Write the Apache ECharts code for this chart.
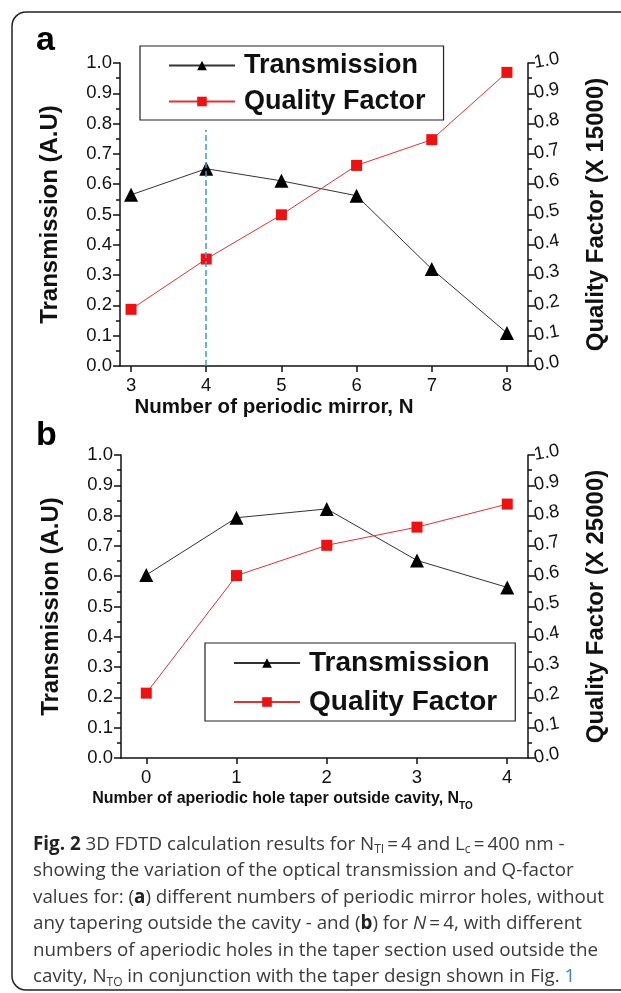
<!DOCTYPE html>
<html>
<head>
<meta charset="utf-8">
<script src="https://cdn.jsdelivr.net/npm/echarts@6/dist/echarts.min.js"></script>
<style>
html, body { margin: 0; padding: 0; background: #fff; }
#chart { width: 621px; height: 993px; }
</style>
</head>
<body>
<div id="chart"></div>
<script>
// panel a: periodic mirror count
const mirrorN = [3, 4, 5, 6, 7, 8]
const transA = [0.565, 0.651, 0.611, 0.562, 0.32, 0.109]
const qualityA = [0.187, 0.353, 0.499, 0.662, 0.747, 0.969]
// dashed marker at N = 4
const markerN = 4
const markerTop = 0.78

// panel b: aperiodic taper holes
const taperN = [0, 1, 2, 3, 4]
const transB = [0.604, 0.793, 0.822, 0.652, 0.563]
const qualityB = [0.214, 0.602, 0.702, 0.762, 0.838]

const captionLines = [
  '{b|Fig. 2} 3D FDTD calculation results for N{s|TI}\u2009=\u20094 and L{s|c}\u2009=\u2009400 nm -',
  'showing the variation of the optical transmission and Q-factor',
  'values for: ({b|a}) different numbers of periodic mirror holes, without',
  'any tapering outside the cavity - and ({b|b}) for {i|N}\u2009=\u20094, with different',
  'numbers of aperiodic holes in the taper section used outside the',
  'cavity, N{s|TO} in conjunction with the taper design shown in Fig. {l|1}'
]

const FONT = '"Liberation Sans", Arial, sans-serif'
const CAP_FONT = '"Open Sans", "Noto Sans", sans-serif'
const INK = '#111'

function pairs (xs, ys) {
  return xs.map((x, i) => [x, ys[i]])
}

function yAxisFor (grid, position, name, gap) {
  const right = position === 'right'
  return {
    type: 'value',
    gridIndex: grid,
    position: position,
    min: 0,
    max: 1,
    interval: 0.1,
    name: name,
    nameLocation: 'middle',
    nameRotate: 90,
    nameGap: gap,
    nameMoveOverlap: false,
    nameTextStyle: { fontFamily: FONT, fontWeight: 'bold', fontSize: 24, color: INK },
    axisLine: { show: true, onZero: false, lineStyle: { color: INK, width: 1.5 } },
    axisTick: { show: true, inside: false, length: 7, lineStyle: { color: INK, width: 1.5 } },
    splitLine: { show: false },
    axisLabel: {
      fontFamily: FONT,
      fontSize: 18.5,
      color: INK,
      margin: right ? 6 : 8,
      rotate: right ? 10 : 0,
      formatter: v => v.toFixed(1)
    }
  }
}

// short ticks every 0.05, drawn by a bare axis on the same side
function minorAxisFor (grid, position) {
  return {
    type: 'value',
    gridIndex: grid,
    position: position,
    min: 0,
    max: 1,
    interval: 0.05,
    axisLine: { show: false, onZero: false },
    axisTick: { show: true, inside: false, length: 4, lineStyle: { color: INK, width: 1.5 } },
    axisLabel: { show: false },
    splitLine: { show: false }
  }
}

function xAxisFor (grid, min, max, ticks, name, nameStyle, padRight, gap) {
  return {
    type: 'value',
    gridIndex: grid,
    min: min,
    max: max,
    name: name,
    nameLocation: 'middle',
    nameGap: gap,
    nameMoveOverlap: false,
    nameTextStyle: Object.assign({ fontFamily: FONT, fontWeight: 'bold', color: INK, padding: [0, padRight, 0, 0] }, nameStyle),
    axisLine: { show: true, onZero: false, lineStyle: { color: INK, width: 1.5 } },
    axisTick: { show: true, inside: false, length: 6, customValues: ticks, lineStyle: { color: INK, width: 1.5 } },
    splitLine: { show: false },
    axisLabel: { fontFamily: FONT, fontSize: 18.5, color: INK, margin: 10, customValues: ticks }
  }
}

function legendAt (left, top, fontSize, gap) {
  return {
    left: left,
    top: top,
    orient: 'vertical',
    padding: [6, 18, 5, 28],
    itemGap: gap,
    itemWidth: 66,
    itemHeight: 12,
    borderColor: '#222',
    borderWidth: 1.2,
    data: ['Transmission', 'Quality Factor'],
    textStyle: { fontFamily: FONT, fontWeight: 'bold', fontSize: fontSize, color: INK, padding: [0, 0, 0, 4] }
  }
}

function transSeries (xi, data, extra) {
  return Object.assign({
    name: 'Transmission',
    type: 'line',
    xAxisIndex: xi,
    yAxisIndex: xi * 4,
    data: data,
    symbol: 'triangle',
    symbolSize: 14,
    itemStyle: { color: '#000' },
    lineStyle: { color: '#333', width: 1 }
  }, extra || {})
}

function qualitySeries (xi, data) {
  return {
    name: 'Quality Factor',
    type: 'line',
    xAxisIndex: xi,
    yAxisIndex: xi * 4 + 1,
    data: data,
    symbol: 'rect',
    symbolSize: 11,
    itemStyle: { color: '#ee1111' },
    lineStyle: { color: '#dd3333', width: 1 }
  }
}

const captionGraphics = captionLines.map((line, i) => ({
  type: 'text',
  left: 33,
  top: 835 + i * 26.5,
  style: {
    text: line,
    fontFamily: CAP_FONT,
    fontSize: 18.8,
    fill: '#3a3a3a',
    rich: {
      b: { fontFamily: CAP_FONT, fontSize: 18.8, fontWeight: 'bold', fill: '#222' },
      i: { fontFamily: CAP_FONT, fontSize: 18.8, fontStyle: 'italic', fill: '#3a3a3a' },
      s: { fontFamily: CAP_FONT, fontSize: 12, fill: '#3a3a3a', verticalAlign: 'bottom', lineHeight: 12, padding: [0, 0, -2, 0] },
      l: { fontFamily: CAP_FONT, fontSize: 18.8, fill: '#3b7dd8' }
    }
  }
}))

const chart = echarts.init(document.getElementById('chart'))
chart.setOption({
  animation: false,
  backgroundColor: '#fff',
  grid: [
    { left: 120, right: 93, top: 63, height: 303, containLabel: false, outerBoundsMode: 'none' },
    { left: 121, right: 93, top: 455, height: 303, containLabel: false, outerBoundsMode: 'none' }
  ],
  xAxis: [
    xAxisFor(0, 2.853, 8.28, mirrorN, 'Number of periodic mirror, N', { fontSize: 20.5 }, 100, 31),
    xAxisFor(1, -0.28, 4.23, taperN, 'Number of aperiodic hole taper outside cavity, N{s|TO}', {
      fontSize: 16,
      rich: { s: { fontFamily: FONT, fontWeight: 'bold', fontSize: 10, color: INK, verticalAlign: 'bottom', padding: [0, 0, -4, 0] } }
    }, 84, 33)
  ],
  yAxis: [
    yAxisFor(0, 'left', 'Transmission (A.U)', 58),
    yAxisFor(0, 'right', 'Quality Factor (X 15000)', 56),
    minorAxisFor(0, 'left'),
    minorAxisFor(0, 'right'),
    yAxisFor(1, 'left', 'Transmission (A.U)', 58),
    yAxisFor(1, 'right', 'Quality Factor (X 25000)', 56),
    minorAxisFor(1, 'left'),
    minorAxisFor(1, 'right')
  ],
  legend: [
    legendAt(140, 46, 27, 9),
    legendAt(205, 643, 28, 11)
  ],
  series: [
    transSeries(0, pairs(mirrorN, transA), {
      markLine: {
        silent: true,
        symbol: 'none',
        label: { show: false },
        lineStyle: { color: '#3d9ad6', type: 'dashed', width: 1.5 },
        data: [[{ coord: [markerN, 0] }, { coord: [markerN, markerTop] }]]
      }
    }),
    qualitySeries(0, pairs(mirrorN, qualityA)),
    transSeries(1, pairs(taperN, transB)),
    qualitySeries(1, pairs(taperN, qualityB))
  ],
  graphic: [
    {
      type: 'rect',
      z: -1,
      shape: { x: 12, y: 12, width: 680, height: 978, r: 14 },
      style: { fill: 'none', stroke: '#222', lineWidth: 1.5 }
    },
    { type: 'text', left: 36, top: 24, style: { text: 'a', fontFamily: FONT, fontWeight: 'bold', fontSize: 34, fill: '#000' } },
    { type: 'text', left: 36, top: 419, style: { text: 'b', fontFamily: FONT, fontWeight: 'bold', fontSize: 34, fill: '#000' } }
  ].concat(captionGraphics)
})
</script>
</body>
</html>
